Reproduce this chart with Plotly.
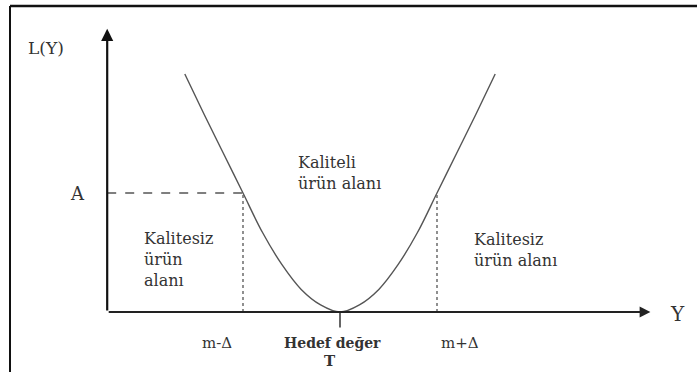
import plotly.graph_objects as go

# ---- data (Y in units of Δ around target T; L in units of A) ----
curve_y = [-1.6, -1.4, -1.2, -1.0, -0.8, -0.6, -0.4, -0.2, 0.0, 0.2, 0.4, 0.6, 0.8, 1.0, 1.2, 1.4, 1.6]
curve_L = [2.0, 1.66, 1.33, 1.0, 0.67, 0.40, 0.19, 0.06, 0.0, 0.06, 0.19, 0.40, 0.67, 1.0, 1.33, 1.66, 2.0]
target_T = 0.0
delta = 1.0
loss_A = 1.0
axis_origin_x = -2.40
axis_x_end = 3.20
axis_y_end = 2.38
tick_labels = ["m-Δ", "Hedef değer", "m+Δ"]

W, H = 697, 372
X0, XS = 340, 97    # pixel of T, pixels per Δ
Y0, YS = 312, 119   # pixel of L=0, pixels per A

def px(x, y):
    return x / W, 1 - y / H

FONT = "DejaVu Serif"
TXT = "#333333"

fig = go.Figure()

# loss curve
fig.add_trace(go.Scatter(x=curve_y, y=curve_L, mode="lines",
                         line=dict(color="#555555", width=1.4, shape="spline"),
                         hoverinfo="skip", showlegend=False))
# dashed guides at A
fig.add_trace(go.Scatter(x=[axis_origin_x, target_T - delta], y=[loss_A, loss_A], mode="lines",
                         line=dict(color="#555555", width=1.3, dash="dash"), showlegend=False))
fig.add_trace(go.Scatter(x=[target_T - delta, target_T - delta], y=[0, loss_A], mode="lines",
                         line=dict(color="#555555", width=1.3, dash="dot"), showlegend=False))
fig.add_trace(go.Scatter(x=[target_T + delta, target_T + delta], y=[0, loss_A], mode="lines",
                         line=dict(color="#555555", width=1.3, dash="dot"), showlegend=False))
# tick at T
fig.add_trace(go.Scatter(x=[target_T, target_T], y=[0, -0.13], mode="lines",
                         line=dict(color="#333333", width=1.5), showlegend=False))

ann = []
# axes with arrows
ann.append(dict(x=axis_origin_x, y=axis_y_end, ax=axis_origin_x, ay=0, xref="x", yref="y",
                axref="x", ayref="y", showarrow=True, arrowhead=2, arrowsize=1.1,
                arrowwidth=2.2, arrowcolor="#111111", text=""))
ann.append(dict(x=axis_x_end, y=0, ax=axis_origin_x, ay=0, xref="x", yref="y",
                axref="x", ayref="y", showarrow=True, arrowhead=2, arrowsize=1.2,
                arrowwidth=1.8, arrowcolor="#222222", text=""))

def label(text, x, y, size=16, xanchor="center", align="center", color=TXT):
    xp, yp = px(x, y)
    ann.append(dict(text=text, x=xp, y=yp, xref="paper", yref="paper", showarrow=False,
                    xanchor=xanchor, yanchor="middle", align=align,
                    font=dict(family=FONT, size=size, color=color)))

label("L(Y)", 46, 48, size=17)
label("A", 77, 193, size=18)
label("Y", 677, 314, size=20)
label("Kalitesiz<br>ürün<br>alanı", 142, 259, xanchor="left", align="left")
label("Kaliteli<br>ürün alanı", 296, 173, xanchor="left", align="left")
label("Kalitesiz<br>ürün alanı", 472, 250, xanchor="left", align="left")
label(tick_labels[0], 217, 343, size=15)
label("<b>" + tick_labels[1] + "</b>", 332, 343, size=14)
label("<b>T</b>", 330, 361, size=15)
label(tick_labels[2], 460, 343, size=15)

fig.update_layout(
    width=W, height=H,
    margin=dict(l=0, r=0, t=0, b=0),
    paper_bgcolor="white", plot_bgcolor="white",
    xaxis=dict(range=[-X0 / XS, (W - X0) / XS], visible=False, fixedrange=True),
    yaxis=dict(range=[(Y0 - H) / YS, Y0 / YS], visible=False, fixedrange=True),
    annotations=ann,
    shapes=[
        dict(type="line", xref="paper", yref="paper", x0=10 / W, x1=1, y0=1 - 6 / H, y1=1 - 6 / H,
             line=dict(color="#111111", width=2.5)),
        dict(type="line", xref="paper", yref="paper", x0=10 / W, x1=10 / W, y0=0, y1=1 - 6 / H,
             line=dict(color="#111111", width=2)),
    ],
    showlegend=False,
)

fig.write_html("out.html", config={"displayModeBar": False},
               post_script="document.body.style.margin='0';document.body.style.overflow='hidden';")
